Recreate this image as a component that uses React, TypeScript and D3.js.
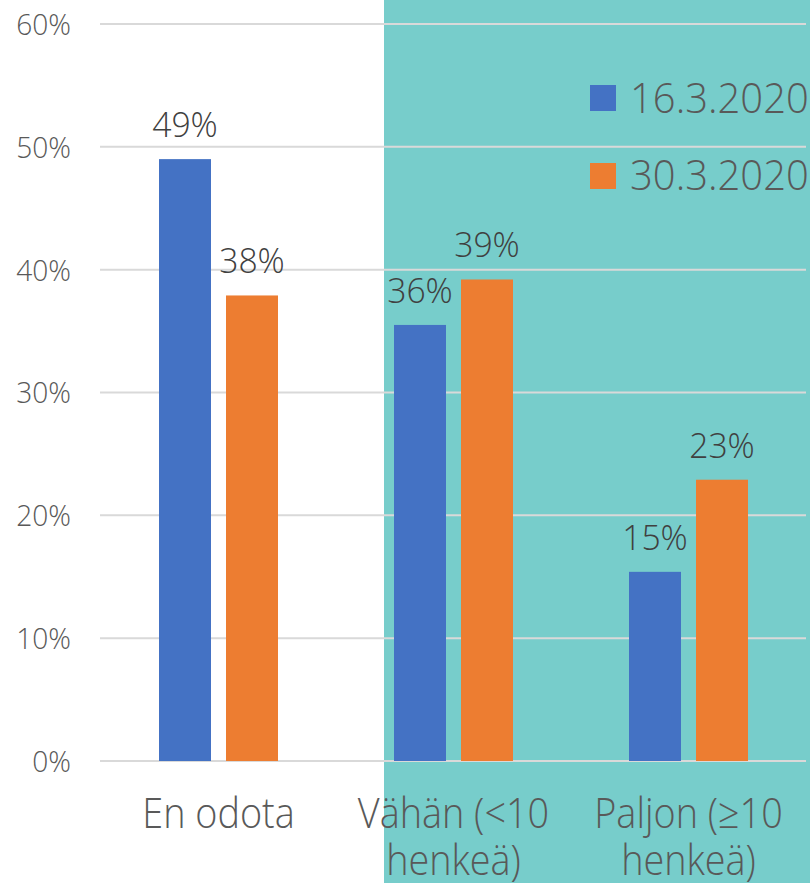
import React from "react";
import * as d3 from "d3";

const categories = ["En odota", "Vähän (<10 henkeä)", "Paljon (≥10 henkeä)"];
const categoryLines = [["En odota"], ["Vähän (<10", "henkeä)"], ["Paljon (≥10", "henkeä)"]];
const seriesNames = ["16.3.2020", "30.3.2020"];
const seriesColors = ["#4472C4", "#ED7D31"];
const values16 = [49.0, 35.5, 15.4];
const values30 = [37.9, 39.2, 22.9];
const labels16 = ["49%", "36%", "15%"];
const labels30 = ["38%", "39%", "23%"];
const yTicks = [0, 10, 20, 30, 40, 50, 60];

const W = 810;
const H = 883;
const FONT = "'Open Sans', sans-serif";

export default function App() {
  const y = d3.scaleLinear().domain([0, 60]).range([761, 24]);
  const x0 = d3.scaleBand<string>().domain(categories).range([100, 805]).padding(0);
  const x1 = d3.scaleBand<string>().domain(seriesNames).range([0, 119]).paddingInner(0.224).paddingOuter(0);
  const groupOffset = (x0.bandwidth() - 119) / 2 + 1;
  const series = [
    { name: seriesNames[0], values: values16, labels: labels16, color: seriesColors[0] },
    { name: seriesNames[1], values: values30, labels: labels30, color: seriesColors[1] },
  ];
  const sx = (cx: number, s: number) => `translate(${cx},0) scale(${s},1) translate(${-cx},0)`;

  return (
    <svg width={W} height={H} style={{ position: "absolute", left: 0, top: 0, background: "#fff" }} fontFamily={FONT}>
      <rect x={384} y={0} width={W - 384} height={H} fill="#77CDCB" />
      {yTicks.map((t) => (
        <g key={t}>
          <line x1={100} x2={806} y1={y(t)} y2={y(t)} stroke="#D9D9D9" strokeWidth={2} />
          <text x={71} y={y(t) + 11} textAnchor="end" fontSize={29} fontWeight={300} fill="#595959" transform={sx(71, 0.97)}>
            {t}%
          </text>
        </g>
      ))}
      {series.map((s) =>
        categories.map((c, i) => {
          const bx = (x0(c) as number) + groupOffset + (x1(s.name) as number);
          const cx = bx + x1.bandwidth() / 2;
          return (
            <g key={s.name + c}>
              <rect x={bx} y={y(s.values[i])} width={x1.bandwidth()} height={y(0) - y(s.values[i])} fill={s.color} />
              <text x={cx} y={y(s.values[i]) - 22} textAnchor="middle" fontSize={34} fontWeight={300} fill="#404040" transform={sx(cx, 0.99)}>
                {s.labels[i]}
              </text>
            </g>
          );
        })
      )}
      {categories.map((c, i) => {
        const cx = (x0(c) as number) + x0.bandwidth() / 2 + 1;
        return (
          <text key={c} textAnchor="middle" fontSize={42} fontWeight={300} fill="#595959" transform={sx(cx, 0.9)}>
            {categoryLines[i].map((ln, j) => (
              <tspan key={j} x={cx} y={828 + j * 47}>
                {ln}
              </tspan>
            ))}
          </text>
        );
      })}
      {series.map((s, i) => (
        <g key={s.name}>
          <rect x={590} y={85 + i * 78} width={26} height={26} fill={s.color} />
          <text x={630} y={113 + i * 77} fontSize={43} fontWeight={300} fill="#595959" transform={sx(630, 0.93)}>
            {s.name}
          </text>
        </g>
      ))}
    </svg>
  );
}
